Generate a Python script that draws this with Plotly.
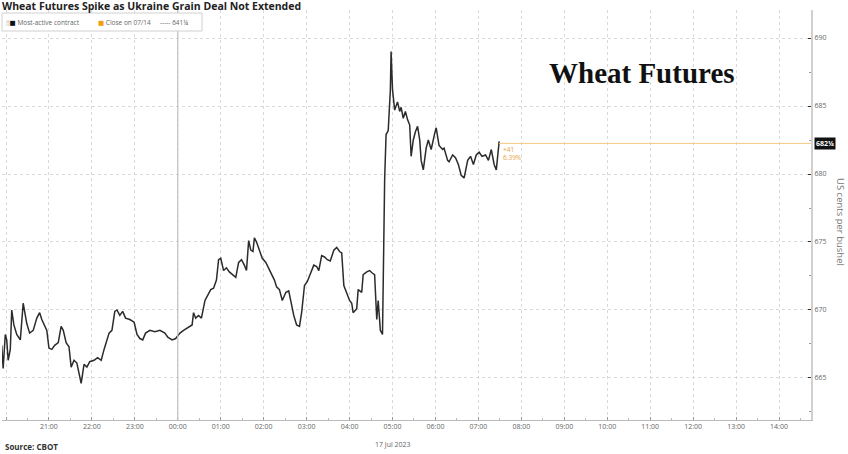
import plotly.graph_objects as go

# ---- data ----
times = [
 "2023-07-16 19:54","2023-07-16 19:56","2023-07-16 19:59","2023-07-16 20:01","2023-07-16 20:03",
 "2023-07-16 20:06","2023-07-16 20:08","2023-07-16 20:11","2023-07-16 20:15","2023-07-16 20:20",
 "2023-07-16 20:24","2023-07-16 20:26","2023-07-16 20:29","2023-07-16 20:33","2023-07-16 20:38",
 "2023-07-16 20:43","2023-07-16 20:47","2023-07-16 20:50","2023-07-16 20:54","2023-07-16 20:57",
 "2023-07-16 21:00","2023-07-16 21:04","2023-07-16 21:08","2023-07-16 21:13","2023-07-16 21:17",
 "2023-07-16 21:20","2023-07-16 21:24","2023-07-16 21:28","2023-07-16 21:31","2023-07-16 21:35",
 "2023-07-16 21:39","2023-07-16 21:43","2023-07-16 21:45","2023-07-16 21:49","2023-07-16 21:53",
 "2023-07-16 21:57","2023-07-16 22:03","2023-07-16 22:08","2023-07-16 22:13","2023-07-16 22:17",
 "2023-07-16 22:20","2023-07-16 22:24","2023-07-16 22:28","2023-07-16 22:32","2023-07-16 22:35",
 "2023-07-16 22:39","2023-07-16 22:43","2023-07-16 22:47","2023-07-16 22:53","2023-07-16 22:59",
 "2023-07-16 23:03","2023-07-16 23:07","2023-07-16 23:11","2023-07-16 23:15","2023-07-16 23:21",
 "2023-07-16 23:28","2023-07-16 23:35","2023-07-16 23:42","2023-07-16 23:46","2023-07-16 23:52",
 "2023-07-16 23:57","2023-07-17 00:03","2023-07-17 00:08","2023-07-17 00:14","2023-07-17 00:20",
 "2023-07-17 00:22","2023-07-17 00:25","2023-07-17 00:29","2023-07-17 00:33","2023-07-17 00:38",
 "2023-07-17 00:42","2023-07-17 00:46","2023-07-17 00:50","2023-07-17 00:54","2023-07-17 00:57",
 "2023-07-17 01:00","2023-07-17 01:04","2023-07-17 01:08","2023-07-17 01:12","2023-07-17 01:17",
 "2023-07-17 01:21","2023-07-17 01:25","2023-07-17 01:29","2023-07-17 01:33","2023-07-17 01:36",
 "2023-07-17 01:39","2023-07-17 01:42","2023-07-17 01:45","2023-07-17 01:47","2023-07-17 01:50",
 "2023-07-17 01:54","2023-07-17 01:58","2023-07-17 02:03","2023-07-17 02:07","2023-07-17 02:11",
 "2023-07-17 02:15","2023-07-17 02:18","2023-07-17 02:22","2023-07-17 02:26","2023-07-17 02:31",
 "2023-07-17 02:35","2023-07-17 02:39","2023-07-17 02:42","2023-07-17 02:46","2023-07-17 02:50",
 "2023-07-17 02:53","2023-07-17 02:57","2023-07-17 03:01","2023-07-17 03:05","2023-07-17 03:10",
 "2023-07-17 03:14","2023-07-17 03:17","2023-07-17 03:21","2023-07-17 03:25","2023-07-17 03:29",
 "2023-07-17 03:33","2023-07-17 03:38","2023-07-17 03:42","2023-07-17 03:46","2023-07-17 03:49",
 "2023-07-17 03:52","2023-07-17 03:56","2023-07-17 04:00","2023-07-17 04:03","2023-07-17 04:05",
 "2023-07-17 04:10","2023-07-17 04:12","2023-07-17 04:17","2023-07-17 04:19","2023-07-17 04:24",
 "2023-07-17 04:28","2023-07-17 04:32","2023-07-17 04:35","2023-07-17 04:38","2023-07-17 04:40",
 "2023-07-17 04:43","2023-07-17 04:46","2023-07-17 04:49","2023-07-17 04:51","2023-07-17 04:54",
 "2023-07-17 04:57","2023-07-17 04:58","2023-07-17 05:00","2023-07-17 05:03","2023-07-17 05:07",
 "2023-07-17 05:10","2023-07-17 05:12","2023-07-17 05:15","2023-07-17 05:18","2023-07-17 05:21",
 "2023-07-17 05:24","2023-07-17 05:26","2023-07-17 05:29","2023-07-17 05:32","2023-07-17 05:35",
 "2023-07-17 05:38","2023-07-17 05:40","2023-07-17 05:43","2023-07-17 05:47","2023-07-17 05:50",
 "2023-07-17 05:54","2023-07-17 05:59","2023-07-17 06:01","2023-07-17 06:05","2023-07-17 06:10",
 "2023-07-17 06:12","2023-07-17 06:17","2023-07-17 06:19","2023-07-17 06:24","2023-07-17 06:28",
 "2023-07-17 06:32","2023-07-17 06:36","2023-07-17 06:40","2023-07-17 06:45","2023-07-17 06:49",
 "2023-07-17 06:53","2023-07-17 06:57","2023-07-17 07:01","2023-07-17 07:05","2023-07-17 07:10",
 "2023-07-17 07:14","2023-07-17 07:18","2023-07-17 07:22","2023-07-17 07:25","2023-07-17 07:28",
 "2023-07-17 07:29",
]
prices = [
 667.4,665.7,668.2,667.8,666.3,667.1,670.0,668.9,668.2,667.8,
 670.5,670.0,669.0,668.3,668.5,669.4,669.8,669.3,668.9,668.5,
 667.2,667.1,667.4,667.6,668.8,668.5,667.6,667.3,665.8,666.3,
 666.1,665.2,664.6,666.0,665.8,666.2,666.3,666.5,666.3,667.1,
 667.7,668.3,668.5,669.9,670.0,669.6,669.9,669.4,669.3,669.1,
 668.2,667.9,667.8,668.3,668.5,668.4,668.5,668.3,668.0,667.8,
 667.9,668.3,668.5,668.7,668.9,669.8,669.4,669.6,669.4,670.7,
 671.1,671.5,671.6,672.2,673.7,673.8,672.9,673.1,672.8,672.6,
 672.4,673.5,673.7,673.3,672.9,675.1,674.4,674.3,675.3,675.0,
 674.4,673.8,673.5,673.1,672.6,672.2,671.7,671.5,670.7,671.3,
 671.4,670.4,669.6,668.9,668.8,669.8,671.8,672.1,672.7,673.3,
 673.2,672.9,674.0,673.9,673.7,673.6,674.4,674.6,674.3,674.2,
 671.8,671.3,670.7,670.5,669.8,670.1,671.5,671.3,672.6,672.8,
 672.9,672.7,672.6,669.3,670.7,668.5,668.2,679.6,682.9,683.2,
 686.2,689.0,686.2,684.7,685.3,684.6,684.9,684.1,684.6,684.0,
 683.6,681.3,682.5,683.1,683.5,682.5,681.0,680.3,681.9,682.5,
 681.8,683.0,683.4,682.1,681.8,681.9,681.0,680.9,681.4,681.2,
 680.7,679.9,679.7,681.0,681.3,680.7,681.4,681.6,681.3,681.4,
 681.0,681.8,680.7,680.3,682.4,682.4,
]
prev_close_label = "641¼"
last_label = "682¼"
last_value = 682.25
change_text = "+41<br>6.39%"
y_ticks = [665, 670, 675, 680, 685, 690]

# plot area pixels: left 2, right 811, top 10, bottom 420
PL, PR, PT, PB = 2, 811, 10, 420
def px(x):
    return (x - PL) / (PR - PL)
def py(y):
    return (PB - y) / (PB - PT)

fig = go.Figure()
fig.add_trace(go.Scatter(x=times, y=prices, mode="lines",
                         line=dict(color="#2b2b2b", width=1.5), showlegend=False,
                         hoverinfo="skip"))

FONT = "Open Sans, DejaVu Sans, sans-serif"
fig.update_layout(
    width=848, height=454,
    margin=dict(l=PL, r=848 - PR, t=PT, b=454 - PB, autoexpand=False),
    paper_bgcolor="white", plot_bgcolor="white",
    font=dict(family=FONT, size=8, color="#555"),
    xaxis=dict(
        type="date", automargin=False,
        range=["2023-07-16 19:54:24", "2023-07-17 14:44:40"],
        tick0="2023-07-16 21:00", dtick=3600000, tickformat="%H:%M",
        showgrid=True, gridcolor="#d9d9d9", griddash="dot", gridwidth=1,
        showline=True, linecolor="#bbbbbb", linewidth=1,
        ticks="inside", ticklen=3, tickcolor="#999",
        minor=dict(dtick=1800000, ticks="inside", ticklen=2, tickcolor="#bbb", showgrid=False),
        tickfont=dict(size=7, color="#666"),
        zeroline=False, fixedrange=True,
    ),
    yaxis=dict(
        side="right", automargin=False,
        range=[661.91, 692.06],
        tickvals=y_ticks,
        showgrid=True, gridcolor="#d9d9d9", griddash="dot", gridwidth=1,
        showline=True, linecolor="#d0d0d0", linewidth=2,
        ticks="inside", ticklen=3, tickcolor="#333",
        minor=dict(dtick=2.5, ticks="inside", ticklen=2, tickcolor="#999", showgrid=False),
        tickfont=dict(size=7, color="#666"),
        zeroline=False, fixedrange=True,
    ),
)

# solid date-change divider at midnight
fig.add_shape(type="line", xref="x", yref="paper", x0="2023-07-17 00:00", x1="2023-07-17 00:00",
              y0=0, y1=1, line=dict(color="#c0c0c0", width=1.2))
# last value line
fig.add_shape(type="line", xref="x", yref="y", x0=times[-1], x1="2023-07-17 14:44:40",
              y0=last_value, y1=last_value, line=dict(color="#f5c986", width=1))

# legend box
fig.add_shape(type="rect", xref="paper", yref="paper", x0=px(2), x1=px(202), y0=py(31), y1=py(13),
              fillcolor="white", line=dict(color="#d0d0d0", width=1), layer="above")

ann = []
ann.append(dict(text="<b>Wheat Futures Spike as Ukraine Grain Deal Not Extended</b>",
                x=px(0), y=py(6), xanchor="left", yanchor="middle",
                font=dict(size=10.5, color="#222", family=FONT)))
ann.append(dict(text="<span style='color:#999'>▯</span><span style='color:#111'>■</span> Most-active contract",
                x=px(4), y=py(22), xanchor="left", yanchor="middle", font=dict(size=6.5, color="#666")))
ann.append(dict(text="<span style='color:#f39c12'>■</span> Close on 07/14",
                x=px(96), y=py(22), xanchor="left", yanchor="middle", font=dict(size=6.5, color="#666")))
ann.append(dict(text="----- " + prev_close_label,
                x=px(158), y=py(22), xanchor="left", yanchor="middle", font=dict(size=6.5, color="#666")))
ann.append(dict(text="<b>Wheat Futures</b>", x=px(642), y=py(73), xanchor="center", yanchor="middle",
                font=dict(size=29, color="#111", family="Liberation Serif, DejaVu Serif, serif")))
ann.append(dict(text="17 Jul 2023", x="2023-07-17 05:00", xref="x", y=py(444), xanchor="center",
                yanchor="middle", font=dict(size=7, color="#666")))
ann.append(dict(text="<b>Source: CBOT</b>", x=px(3), y=py(446), xanchor="left", yanchor="middle",
                font=dict(size=8, color="#333", family=FONT)))
ann.append(dict(text="<b>" + last_label + "</b>", x=px(814), y=last_value, yref="y", xanchor="left",
                yanchor="middle", bgcolor="#111", font=dict(size=7, color="white"), borderpad=1))
ann.append(dict(text=change_text, x=times[-1], xref="x", y=last_value, yref="y", xanchor="left",
                yanchor="top", xshift=2, align="left", font=dict(size=6.5, color="#e6a23c")))
ann.append(dict(text="US cents per bushel", x=px(841), y=py(222), xanchor="center", yanchor="middle",
                textangle=90, font=dict(size=9.5, color="#777")))

for a in ann:
    a.setdefault("xref", "paper")
    a.setdefault("yref", "paper")
    a["showarrow"] = False
fig.update_layout(annotations=ann)

fig.write_html("out.html", config={"displayModeBar": False},
               post_script="document.body.style.margin='0px';")
